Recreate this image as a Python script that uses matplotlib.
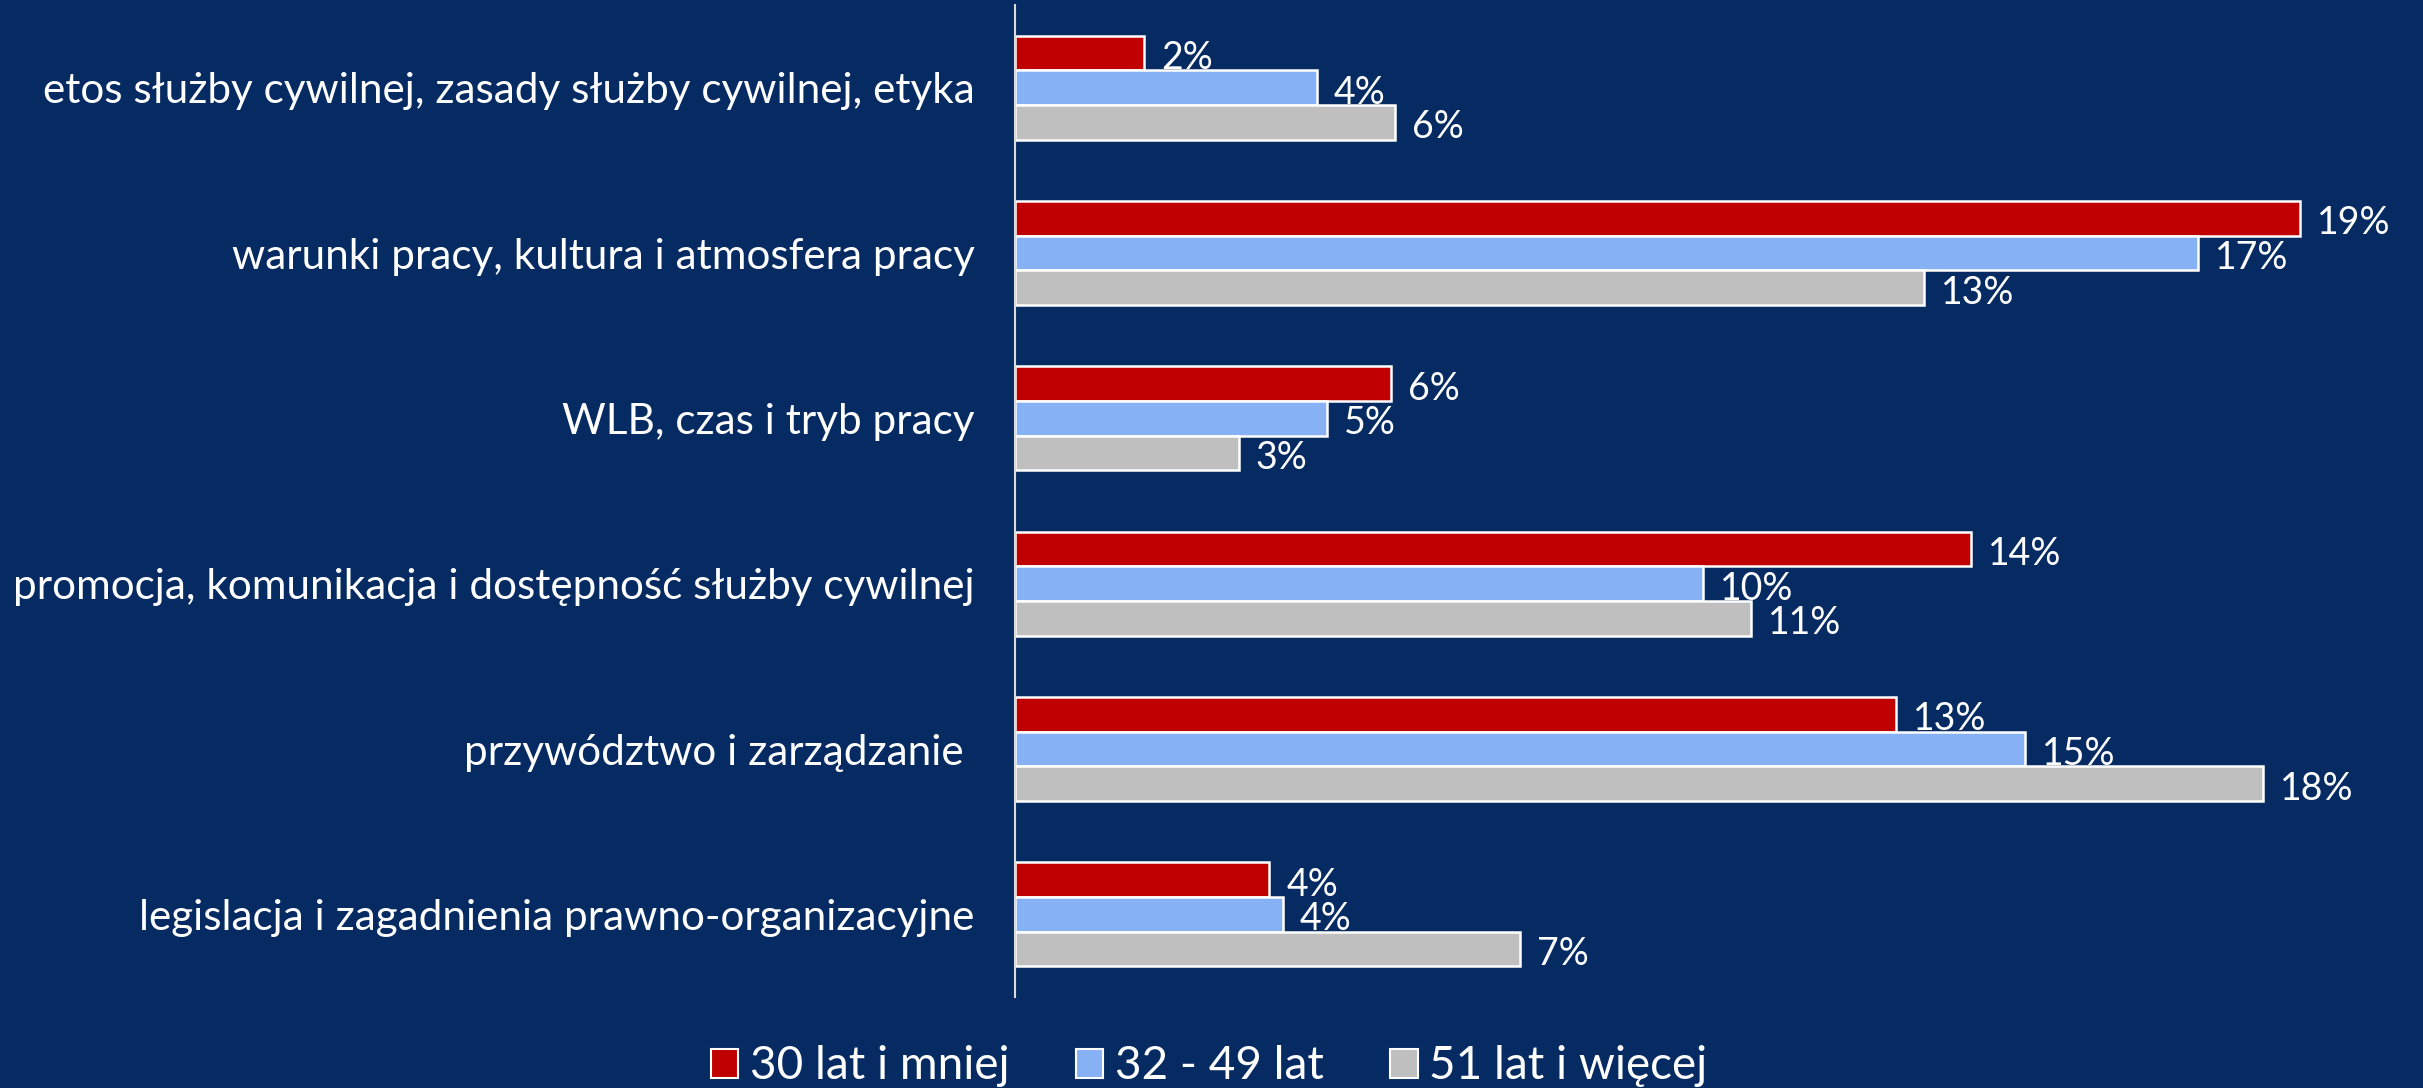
import numpy as np
import matplotlib.pyplot as plt
from matplotlib.patches import Patch

plt.rcParams['font.family'] = ['Lato', 'DejaVu Sans']

categories = [
    'etos służby cywilnej, zasady służby cywilnej, etyka',
    'warunki pracy, kultura i atmosfera pracy',
    'WLB, czas i tryb pracy',
    'promocja, komunikacja i dostępność służby cywilnej',
    'przywództwo i zarządzanie ',
    'legislacja i zagadnienia prawno-organizacyjne',
]
series = ['30 lat i mniej', '32 - 49 lat', '51 lat i więcej']
young = [1.9, 18.95, 5.55, 14.1, 13.0, 3.75]
middle = [4.45, 17.45, 4.6, 10.15, 14.9, 3.95]
older = [5.6, 13.4, 3.3, 10.85, 18.4, 7.45]

bg = '#062B62'
colors = ['#C00000', '#86B2F5', '#BFBFBF']

fig = plt.figure(figsize=(24.23, 10.88), dpi=100, facecolor=bg)
ax = fig.add_axes([0.4189, 0.0836, 0.5597, 0.9118])
ax.set_facecolor(bg)

y = np.arange(len(categories))
h = 0.21
for i, (vals, c) in enumerate(zip([young, middle, older], colors)):
    pos = y + (i - 1) * h
    ax.barh(pos, vals, height=h, color=c, edgecolor='white', linewidth=1.8)
    for p, v in zip(pos, vals):
        ax.text(v + 0.25, p + 0.03, '{0:.0f}%'.format(v), color='white',
                fontsize=27, va='center', ha='left', clip_on=False)

ax.set_xlim(0, 20)
ax.set_ylim(len(categories) - 0.5, -0.5)
ax.set_yticks(y)
ax.set_yticklabels(categories, fontsize=30.4, color='white')
ax.tick_params(axis='y', length=0, pad=29)
ax.set_xticks([])
for s in ['top', 'right', 'bottom']:
    ax.spines[s].set_visible(False)
ax.spines['left'].set_color('#D9D9D9')
ax.spines['left'].set_linewidth(1.5)

handles = [Patch(facecolor=c, edgecolor='white', linewidth=1.5) for c in colors]
fig.legend(handles, series, loc='center', bbox_to_anchor=(0.499, 0.02), ncol=3,
           frameon=False, fontsize=33, labelcolor='white', handlelength=0.6,
           handleheight=0.6, handletextpad=0.25, columnspacing=1.45)

fig.savefig('out.png', dpi=100, facecolor=bg)
